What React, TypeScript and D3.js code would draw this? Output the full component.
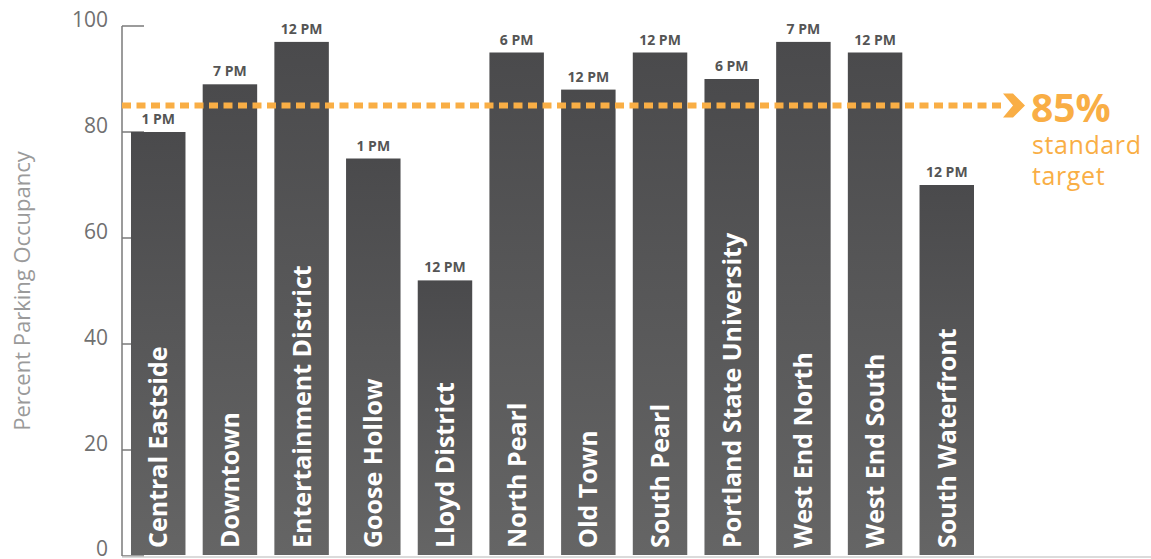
import React from "react";
import * as d3 from "d3";

const categories = [
  "Central Eastside", "Downtown", "Entertainment District", "Goose Hollow",
  "Lloyd District", "North Pearl", "Old Town", "South Pearl",
  "Portland State University", "West End North", "West End South", "South Waterfront",
];
const occupancy = [80, 89, 97, 75, 52, 95, 88, 95, 90, 97, 95, 70];
const peakTimes = ["1 PM", "7 PM", "12 PM", "1 PM", "12 PM", "6 PM", "12 PM", "12 PM", "6 PM", "7 PM", "12 PM", "12 PM"];
const yTicks = [0, 20, 40, 60, 80, 100];
const targetValue = 85;
const targetLabel = "85%";
const targetText = ["standard", "target"];
const axisTitle = "Percent Parking Occupancy";

const W = 1151;
const H = 559;
const FONT = "'Open Sans', 'Noto Sans', sans-serif";
const ORANGE = "#F9AE45";

export default function App() {
  const y = d3.scaleLinear().domain([0, 100]).range([556, 26]);
  const x = d3.scaleBand<string>().domain(categories).range([131, 974]).paddingInner(0.24).paddingOuter(0);
  const axisX = 122;
  const ty = y(targetValue);

  return (
    <svg width={W} height={H} style={{ position: "absolute", left: 0, top: 0, background: "#fff" }}>
      <defs>
        <linearGradient id="barGrad" x1="0" y1="0" x2="0" y2="1">
          <stop offset="0%" stopColor="#4a4a4c" />
          <stop offset="100%" stopColor="#656565" />
        </linearGradient>
      </defs>

      {/* axis title */}
      <text
        transform={`translate(30,${(y(0) + y(100)) / 2}) rotate(-90)`}
        textAnchor="middle"
        fontFamily={FONT}
        fontSize={22}
        fill="#9a9a9a"
      >
        {axisTitle}
      </text>

      {/* y axis */}
      <line x1={axisX} x2={axisX} y1={y(100)} y2={y(0)} stroke="#7a7a7a" strokeWidth={1.5} />
      {yTicks.map((t) => (
        <g key={t}>
          <line x1={axisX} x2={axisX + 22} y1={y(t)} y2={y(t)} stroke="#7a7a7a" strokeWidth={1.5} />
          <text x={108} y={t === 0 ? y(t) : y(t) + 1} textAnchor="end" fontFamily={FONT} fontSize={21} fill="#707070">
            {t}
          </text>
        </g>
      ))}
      <line x1={axisX} x2={W} y1={y(0) + 1} y2={y(0) + 1} stroke="#cfcfcf" strokeWidth={1.5} />

      {/* bars */}
      {categories.map((c, i) => {
        const bx = x(c)!;
        const bw = x.bandwidth();
        const top = y(occupancy[i]);
        return (
          <g key={c}>
            <rect x={bx} y={top} width={bw} height={y(0) - top - 1} fill="url(#barGrad)" />
            <text
              x={bx + bw / 2}
              y={top - 8}
              textAnchor="middle"
              fontFamily={FONT}
              fontWeight={700}
              fontSize={14}
              fill="#555"
            >
              {peakTimes[i]}
            </text>
            <text
              transform={`translate(${bx + bw / 2 + 9},${y(0) - 8}) rotate(-90)`}
              textAnchor="start"
              fontFamily={FONT}
              fontWeight={700}
              fontSize={25}
              fill="#fff"
            >
              {c}
            </text>
          </g>
        );
      })}

      {/* target line */}
      <line
        x1={axisX}
        x2={1002}
        y1={ty}
        y2={ty}
        stroke={ORANGE}
        strokeWidth={6}
        strokeDasharray="9 5.5"
      />
      <polygon
        points={`1003,${ty - 12} 1013,${ty - 12} 1025,${ty} 1013,${ty + 12} 1003,${ty + 12} 1013,${ty}`}
        fill={ORANGE}
      />
      <text x={1031} y={ty + 16} fontFamily={FONT} fontWeight={700} fontSize={39} fill={ORANGE}>
        {targetLabel}
      </text>
      {targetText.map((t, i) => (
        <text key={t} x={1032} y={ty + 48 + i * 31} fontFamily={FONT} fontSize={25} letterSpacing={0.6} fill={ORANGE}>
          {t}
        </text>
      ))}
    </svg>
  );
}
